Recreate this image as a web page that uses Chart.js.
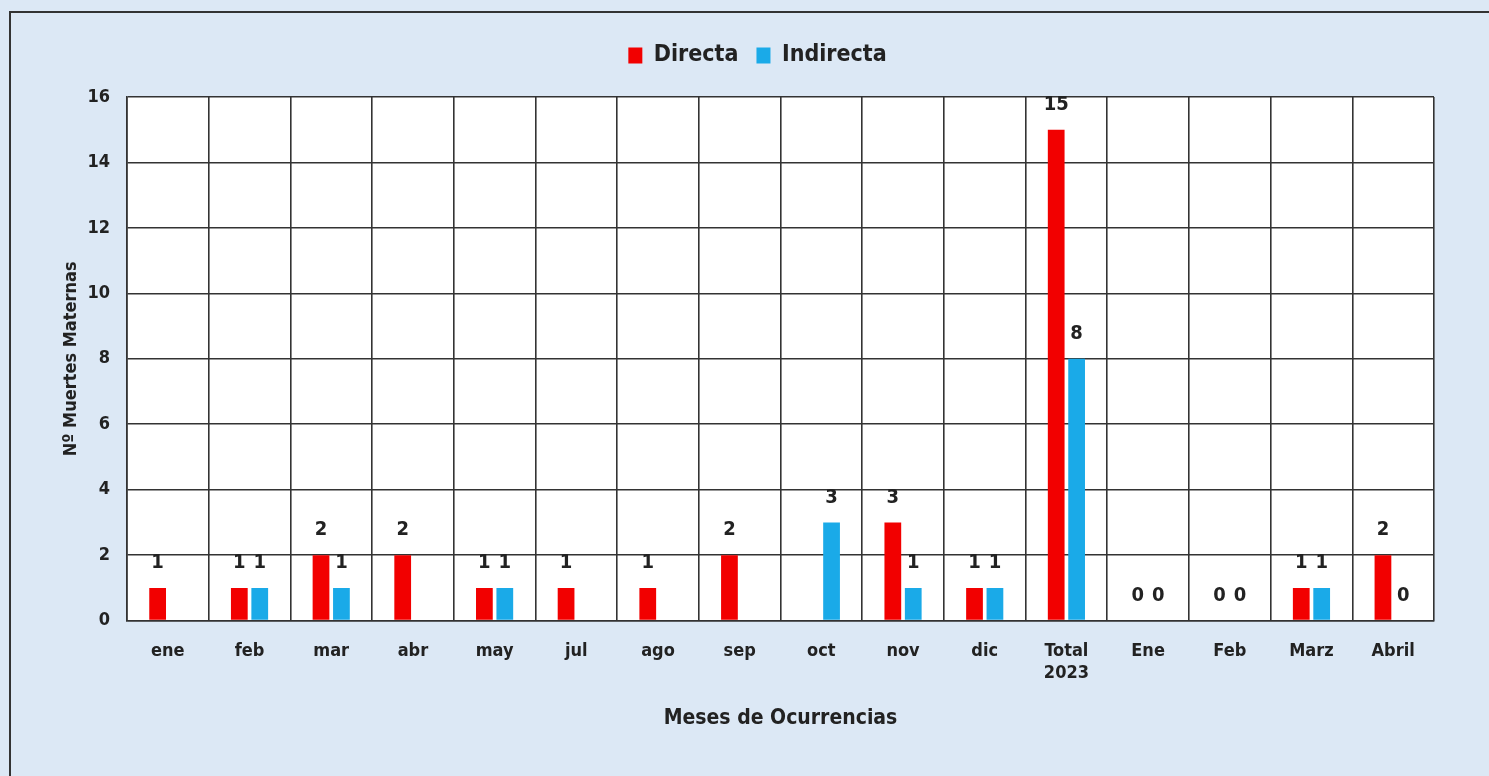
<!DOCTYPE html>
<html>
<head>
<meta charset="utf-8">
<script src="https://cdn.jsdelivr.net/npm/chart.js@4"></script>
<style>
html, body { margin: 0; padding: 0; background: #dce8f5; }
canvas { display: block; }
</style>
</head>
<body>
<canvas id="chart" width="1489" height="776"></canvas>
<script>
// data (null = no bar and no label)
var meses = ['ene', 'feb', 'mar', 'abr', 'may', 'jul', 'ago', 'sep', 'oct', 'nov', 'dic',
	['Total', '2023'], 'Ene', 'Feb', 'Marz', 'Abril'];
var directa = [1, 1, 2, 2, 1, 1, 1, 2, null, 3, 1, 15, 0, 0, 1, 2];
var indirecta = [null, 1, 1, null, 1, null, null, null, 3, 1, 1, 8, 0, 0, 1, 0];
var yTicks = [0, 2, 4, 6, 8, 10, 12, 14, 16];

var fam = '"Liberation Sans Narrow", "DejaVu Sans Condensed", Arial, sans-serif';

// light blue panel with frame
var fondo = {
	id: 'fondo',
	beforeInit: function(chart) {
		// extra room between legend and plot
		var fit = chart.legend.fit;
		chart.legend.fit = function() {
			fit.call(this);
			this.height += 20;
		};
	},
	afterLayout: function(chart) {
		// legend sits a bit right of centre in the original
		chart.legend.left += 13;
		chart.legend.right += 13;
	},
	beforeDraw: function(chart) {
		var c = chart.ctx;
		c.save();
		c.fillStyle = '#dce8f5';
		c.fillRect(0, 0, chart.width, chart.height);
		c.strokeStyle = '#333';
		c.lineWidth = 2;
		c.strokeRect(10, 12, chart.width + 10, chart.height + 10);
		var a = chart.chartArea;
		c.fillStyle = '#ffffff';
		c.fillRect(a.left, a.top, a.right - a.left, a.bottom - a.top);
		c.restore();
	}
};

// value labels above the bars
var etiquetas = {
	id: 'etiquetas',
	afterDatasetsDraw: function(chart) {
		var c = chart.ctx;
		c.save();
		c.font = 'bold 20px ' + fam;
		c.fillStyle = '#222';
		c.textAlign = 'center';
		c.textBaseline = 'middle';
		chart.data.datasets.forEach(function(ds, i) {
			chart.getDatasetMeta(i).data.forEach(function(bar, j) {
				if (ds.data[j] === null) return;
				c.fillText(ds.data[j], bar.x, bar.y - 25);
			});
		});
		c.restore();
	}
};

var ctx = document.getElementById('chart').getContext('2d');
var chart = new Chart(ctx, {
	type: 'bar',
	data: {
		labels: meses,
		datasets: [
		{label: 'Directa', data: directa, backgroundColor: '#f20000',
			categoryPercentage: 0.5, barPercentage: 0.82},
		{label: 'Indirecta', data: indirecta, backgroundColor: '#1aaae8',
			categoryPercentage: 0.5, barPercentage: 0.82}]
	},
	options: {
		responsive: false,
		animation: false,
		layout: {padding: {top: 26, left: 55, right: 55, bottom: 41}},
		plugins: {
			legend: {
				labels: {
					boxWidth: 14, boxHeight: 16, padding: 18,
					color: '#222', font: {family: fam, size: 23, weight: 'bold'}
				}
			},
			tooltip: {enabled: false}
		},
		scales: {
			x: {
				grid: {color: '#333', lineWidth: 1.6, offset: true, drawTicks: false},
				border: {color: '#333', width: 1.6},
				ticks: {color: '#222', padding: 20, font: {family: fam, size: 18, weight: 'bold'}, maxRotation: 0},
				title: {display: true, text: 'Meses de Ocurrencias', color: '#222', padding: {top: 2},
					font: {family: fam, size: 21, weight: 'bold'}}
			},
			y: {
				min: 0, max: 16,
				afterBuildTicks: function(s) { s.ticks = yTicks.map(function(v) { return {value: v}; }); },
				afterFit: function(s) { s.width = 72; },
				grid: {color: '#333', lineWidth: 1.6, drawTicks: false},
				border: {color: '#333', width: 1.6},
				ticks: {color: '#222', padding: 17, font: {family: fam, size: 18, weight: 'bold'}},
				title: {display: true, text: 'Nº Muertes Maternas', color: '#222', padding: {top: 6, bottom: 4},
					font: {family: fam, size: 18, weight: 'bold'}}
			}
		}
	},
	plugins: [fondo, etiquetas]
});
</script>
</body>
</html>
